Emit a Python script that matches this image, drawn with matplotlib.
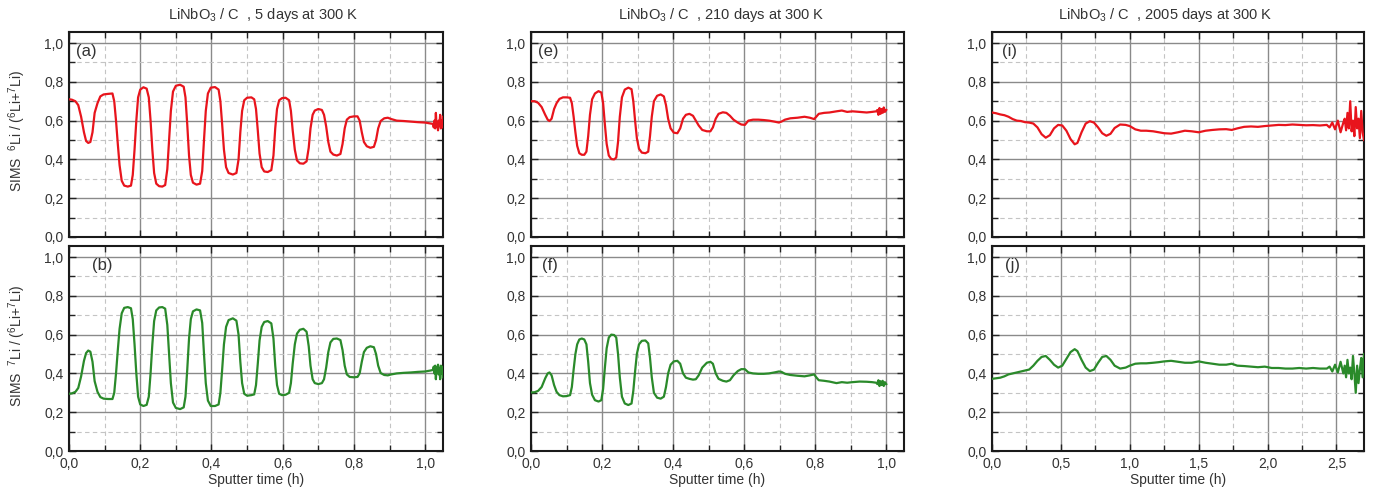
import matplotlib
matplotlib.use('Agg')
import matplotlib.pyplot as plt
from matplotlib.ticker import MultipleLocator, FuncFormatter

plt.rcParams['font.family'] = ['Liberation Sans', 'DejaVu Sans']
plt.rcParams['mathtext.fontset'] = 'custom'
plt.rcParams['mathtext.rm'] = 'Liberation Sans'
plt.rcParams['mathtext.it'] = 'Liberation Sans'
plt.rcParams['mathtext.default'] = 'regular'

# ---------------- data ----------------
titles = ["LiNbO$_3$ / C  , 5 days at 300 K",
          "LiNbO$_3$ / C  , 210 days at 300 K",
          "LiNbO$_3$ / C  , 2005 days at 300 K"]
panel_top = ["(a)", "(e)", "(i)"]
panel_bot = ["(b)", "(f)", "(j)"]
ylabel_top = "SIMS  $^{6}$Li / ($^{6}$Li+$^{7}$Li)"
ylabel_bot = "SIMS  $^{7}$Li / ($^{6}$Li+$^{7}$Li)"
xlabel = "Sputter time (h)"

# 5 days
t_5d = [0.000, 0.008, 0.018, 0.026, 0.034, 0.042, 0.048, 0.054, 0.060, 0.066, 0.072, 0.080, 0.088, 0.097, 0.110, 0.122,
        0.127, 0.132, 0.137, 0.142, 0.148, 0.155, 0.165, 0.174,
        0.179, 0.184, 0.189, 0.194, 0.200, 0.209, 0.218,
        0.224, 0.229, 0.234, 0.239, 0.245, 0.253, 0.262, 0.270,
        0.276, 0.281, 0.286, 0.292, 0.300, 0.312, 0.322,
        0.327, 0.332, 0.337, 0.342, 0.348, 0.358, 0.368,
        0.374, 0.379, 0.384, 0.390, 0.398, 0.410, 0.420,
        0.425, 0.430, 0.435, 0.441, 0.448, 0.460, 0.470,
        0.476, 0.481, 0.486, 0.492, 0.500, 0.512, 0.520,
        0.525, 0.530, 0.535, 0.541, 0.548, 0.558, 0.568,
        0.574, 0.579, 0.584, 0.590, 0.598, 0.608, 0.618,
        0.623, 0.628, 0.634, 0.640, 0.648, 0.658, 0.667,
        0.673, 0.678, 0.684, 0.690, 0.700, 0.710, 0.716,
        0.722, 0.728, 0.734, 0.742, 0.752, 0.762,
        0.768, 0.774, 0.780, 0.788, 0.800, 0.810, 0.816,
        0.822, 0.828, 0.836, 0.846, 0.856, 0.862,
        0.868, 0.875, 0.885, 0.895, 0.905, 0.920, 0.940, 0.960, 0.980, 1.000, 1.015, 1.022,
        1.024, 1.026, 1.028, 1.030, 1.032, 1.034, 1.036, 1.038, 1.040, 1.042, 1.044, 1.046, 1.048, 1.050]
li6_5d = [0.710, 0.708, 0.700, 0.680, 0.620, 0.540, 0.495, 0.485, 0.490, 0.540, 0.640, 0.690, 0.725, 0.735, 0.738, 0.740,
          0.700, 0.600, 0.480, 0.370, 0.290, 0.265, 0.260, 0.265,
          0.320, 0.450, 0.600, 0.720, 0.760, 0.772, 0.765,
          0.720, 0.600, 0.450, 0.330, 0.275, 0.262, 0.260, 0.268,
          0.350, 0.500, 0.650, 0.750, 0.780, 0.785, 0.775,
          0.720, 0.580, 0.420, 0.320, 0.280, 0.270, 0.275,
          0.340, 0.500, 0.650, 0.740, 0.770, 0.773, 0.760,
          0.700, 0.580, 0.450, 0.360, 0.330, 0.322, 0.330,
          0.400, 0.540, 0.650, 0.705, 0.718, 0.720, 0.710,
          0.660, 0.550, 0.430, 0.360, 0.338, 0.335, 0.345,
          0.420, 0.560, 0.660, 0.705, 0.716, 0.718, 0.705,
          0.650, 0.550, 0.450, 0.395, 0.380, 0.378, 0.390,
          0.460, 0.560, 0.630, 0.652, 0.660, 0.655, 0.630,
          0.570, 0.490, 0.440, 0.425, 0.420, 0.428,
          0.480, 0.560, 0.605, 0.618, 0.622, 0.622, 0.600,
          0.540, 0.490, 0.468, 0.460, 0.465, 0.500,
          0.560, 0.598, 0.612, 0.615, 0.608, 0.600, 0.598, 0.595, 0.592, 0.590, 0.585, 0.583,
          0.565, 0.600, 0.560, 0.640, 0.570, 0.585, 0.550, 0.600, 0.575, 0.630, 0.560, 0.600, 0.565, 0.620]
li7_5d = [0.295, 0.297, 0.305, 0.325, 0.385, 0.465, 0.505, 0.518, 0.512, 0.460, 0.360, 0.305, 0.278, 0.270, 0.268, 0.268,
          0.300, 0.400, 0.520, 0.630, 0.710, 0.738, 0.742, 0.736,
          0.680, 0.550, 0.400, 0.280, 0.240, 0.232, 0.238,
          0.280, 0.400, 0.550, 0.670, 0.725, 0.740, 0.742, 0.734,
          0.650, 0.500, 0.350, 0.250, 0.222, 0.216, 0.225,
          0.280, 0.420, 0.580, 0.680, 0.720, 0.730, 0.725,
          0.660, 0.500, 0.350, 0.260, 0.232, 0.232, 0.240,
          0.300, 0.420, 0.550, 0.640, 0.675, 0.684, 0.672,
          0.600, 0.460, 0.350, 0.295, 0.285, 0.288, 0.292,
          0.340, 0.450, 0.570, 0.640, 0.665, 0.670, 0.658,
          0.580, 0.440, 0.340, 0.295, 0.288, 0.290, 0.300,
          0.350, 0.450, 0.550, 0.605, 0.625, 0.630, 0.615,
          0.540, 0.440, 0.370, 0.350, 0.345, 0.350, 0.370,
          0.430, 0.510, 0.560, 0.578, 0.580, 0.572,
          0.520, 0.440, 0.395, 0.382, 0.380, 0.382, 0.400,
          0.460, 0.510, 0.532, 0.540, 0.535, 0.500,
          0.440, 0.402, 0.392, 0.390, 0.395, 0.400, 0.403, 0.405, 0.408, 0.410, 0.415, 0.418,
          0.435, 0.400, 0.440, 0.370, 0.430, 0.405, 0.445, 0.395, 0.425, 0.370, 0.440, 0.400, 0.435, 0.380]

# 210 days
t_210d = [0.000, 0.010, 0.020, 0.030, 0.040, 0.047, 0.052, 0.058, 0.065, 0.072, 0.080, 0.090, 0.100, 0.110,
          0.115, 0.120, 0.125, 0.130, 0.136, 0.143, 0.150, 0.156,
          0.161, 0.166, 0.172, 0.180, 0.190, 0.198,
          0.203, 0.208, 0.213, 0.219, 0.226, 0.234, 0.240,
          0.245, 0.250, 0.256, 0.264, 0.274, 0.283,
          0.288, 0.293, 0.298, 0.304, 0.312, 0.322, 0.330,
          0.335, 0.340, 0.346, 0.355, 0.365, 0.374,
          0.380, 0.386, 0.393, 0.402, 0.412, 0.420,
          0.428, 0.436, 0.446, 0.456, 0.464,
          0.472, 0.482, 0.495, 0.505, 0.512, 0.520, 0.528, 0.540, 0.550, 0.560, 0.570, 0.582, 0.592, 0.602,
          0.612, 0.625, 0.640, 0.655, 0.670, 0.685, 0.698, 0.705, 0.715, 0.730, 0.750, 0.770, 0.785, 0.797,
          0.803, 0.810, 0.825, 0.840, 0.860, 0.875, 0.890, 0.905, 0.925, 0.945, 0.960, 0.972,
          0.975, 0.978, 0.981, 0.984, 0.987, 0.990, 0.993, 0.996, 1.000]
li6_210d = [0.700, 0.700, 0.692, 0.670, 0.630, 0.605, 0.598, 0.610, 0.660, 0.690, 0.712, 0.720, 0.720, 0.718,
            0.690, 0.620, 0.540, 0.470, 0.432, 0.424, 0.424, 0.440,
            0.520, 0.630, 0.710, 0.740, 0.752, 0.745,
            0.690, 0.580, 0.480, 0.420, 0.402, 0.400, 0.410,
            0.490, 0.620, 0.720, 0.760, 0.770, 0.762,
            0.700, 0.600, 0.510, 0.455, 0.435, 0.432, 0.440,
            0.520, 0.620, 0.700, 0.728, 0.735, 0.725,
            0.680, 0.610, 0.560, 0.538, 0.535, 0.560,
            0.610, 0.630, 0.635, 0.625, 0.600,
            0.575, 0.552, 0.545, 0.545, 0.565, 0.610, 0.635, 0.643, 0.640, 0.625, 0.605, 0.590, 0.580, 0.578,
            0.600, 0.605, 0.605, 0.603, 0.600, 0.595, 0.590, 0.595, 0.605, 0.612, 0.615, 0.620, 0.615, 0.608,
            0.620, 0.635, 0.640, 0.642, 0.648, 0.652, 0.645, 0.648, 0.645, 0.642, 0.645, 0.648,
            0.655, 0.630, 0.665, 0.635, 0.660, 0.640, 0.668, 0.645, 0.655]
li7_210d = [0.302, 0.303, 0.310, 0.330, 0.375, 0.400, 0.405, 0.390, 0.340, 0.305, 0.288, 0.282, 0.283, 0.288,
            0.330, 0.420, 0.500, 0.550, 0.575, 0.580, 0.575, 0.550,
            0.460, 0.350, 0.290, 0.262, 0.255, 0.262,
            0.320, 0.430, 0.530, 0.585, 0.600, 0.598, 0.585,
            0.500, 0.380, 0.280, 0.245, 0.237, 0.245,
            0.310, 0.410, 0.500, 0.550, 0.568, 0.570, 0.555,
            0.480, 0.380, 0.300, 0.275, 0.270, 0.280,
            0.330, 0.400, 0.445, 0.462, 0.465, 0.450,
            0.400, 0.378, 0.372, 0.368, 0.370,
            0.390, 0.430, 0.455, 0.460, 0.450, 0.400, 0.372, 0.362, 0.358, 0.365, 0.390, 0.412, 0.422, 0.422,
            0.405, 0.400, 0.398, 0.398, 0.400, 0.405, 0.410, 0.408, 0.398, 0.392, 0.388, 0.385, 0.390, 0.395,
            0.380, 0.365, 0.362, 0.358, 0.350, 0.355, 0.352, 0.355, 0.358, 0.357, 0.355, 0.352,
            0.345, 0.365, 0.335, 0.360, 0.340, 0.362, 0.335, 0.355, 0.345]

# 2005 days
t_2005d = [0.00, 0.03, 0.06, 0.09, 0.12, 0.15, 0.18, 0.21, 0.24, 0.27, 0.30, 0.33, 0.36, 0.39, 0.42, 0.45, 0.48,
           0.51, 0.54, 0.57, 0.60, 0.62, 0.65, 0.68, 0.71, 0.74, 0.77, 0.80, 0.83, 0.86, 0.89, 0.93, 0.97,
           1.00, 1.04, 1.08, 1.12, 1.17, 1.21, 1.25, 1.30, 1.35, 1.40, 1.45, 1.50, 1.55, 1.60, 1.65, 1.70,
           1.74, 1.78, 1.83, 1.88, 1.93, 1.98, 2.03, 2.08, 2.13, 2.18, 2.23, 2.28, 2.33, 2.38, 2.43,
           2.45, 2.47, 2.49, 2.51, 2.53, 2.55, 2.56, 2.57, 2.58, 2.59, 2.60, 2.61, 2.62, 2.63, 2.64,
           2.65, 2.66, 2.67, 2.68, 2.69, 2.70]
li6_2005d = [0.642, 0.638, 0.632, 0.628, 0.620, 0.608, 0.600, 0.598, 0.592, 0.590, 0.585, 0.565, 0.530, 0.512,
             0.525, 0.560, 0.578, 0.575, 0.548, 0.505, 0.478, 0.485, 0.540, 0.585, 0.597, 0.590, 0.565, 0.535,
             0.522, 0.532, 0.562, 0.580, 0.578, 0.572, 0.555, 0.548, 0.548, 0.545, 0.540, 0.535, 0.533, 0.540,
             0.548, 0.545, 0.540, 0.548, 0.552, 0.555, 0.556, 0.552, 0.560, 0.568, 0.570, 0.568, 0.572, 0.575,
             0.578, 0.577, 0.580, 0.578, 0.576, 0.577, 0.575, 0.578,
             0.565, 0.590, 0.555, 0.600, 0.540, 0.590, 0.610, 0.550, 0.640, 0.560, 0.700, 0.545, 0.600, 0.520,
             0.670, 0.560, 0.610, 0.510, 0.650, 0.540, 0.500]
li7_2005d = [0.372, 0.375, 0.378, 0.385, 0.395, 0.400, 0.405, 0.410, 0.415, 0.420, 0.440, 0.465, 0.485, 0.490,
             0.470, 0.445, 0.430, 0.440, 0.475, 0.510, 0.525, 0.515, 0.470, 0.430, 0.412, 0.420, 0.455, 0.485,
             0.490, 0.470, 0.440, 0.425, 0.430, 0.440, 0.450, 0.452, 0.452, 0.455, 0.458, 0.462, 0.465, 0.460,
             0.455, 0.455, 0.462, 0.455, 0.450, 0.445, 0.445, 0.450, 0.440, 0.438, 0.435, 0.432, 0.435, 0.428,
             0.428, 0.425, 0.425, 0.428, 0.425, 0.428, 0.425, 0.425,
             0.435, 0.410, 0.445, 0.405, 0.460, 0.400, 0.440, 0.380, 0.470, 0.400, 0.430, 0.370, 0.490, 0.400,
             0.300, 0.440, 0.350, 0.420, 0.480, 0.380, 0.500]

times = [t_5d, t_210d, t_2005d]
top_vals = [li6_5d, li6_210d, li6_2005d]
bot_vals = [li7_5d, li7_210d, li7_2005d]
xmax = [1.05, 1.05, 2.70]
xmajor = [0.2, 0.2, 0.5]
xminor = [0.1, 0.1, 0.25]

# ---------------- layout ----------------
W, H = 1384, 498
fig = plt.figure(figsize=(W / 100, H / 100), dpi=100)
col_left = [69, 531, 992]
col_right = [443, 904, 1364]
row_top = [32, 246]
row_bot = [237, 451]
title_x = [263, 721, 1165]
lab_top_x = [0.02, 0.02, 0.027]
lab_bot_x = [0.062, 0.03, 0.035]

RED = '#e8141c'
GREEN = '#2a8a2a'
fmt = FuncFormatter(lambda v, p: f"{v:.1f}".replace('.', ','))


def style(ax, c, bottom_row):
    ax.set_xlim(0, xmax[c])
    ax.set_ylim(0, 1.057)
    ax.xaxis.set_major_locator(MultipleLocator(xmajor[c]))
    ax.xaxis.set_minor_locator(MultipleLocator(xminor[c]))
    ax.yaxis.set_major_locator(MultipleLocator(0.2))
    ax.yaxis.set_minor_locator(MultipleLocator(0.1))
    ax.xaxis.set_major_formatter(fmt)
    ax.yaxis.set_major_formatter(fmt)
    ax.grid(which='major', color='#8a8a8a', lw=1.0, ls='-')
    ax.grid(which='minor', color='#c4c4c4', lw=0.8, ls=(0, (4, 3)))
    ax.set_axisbelow(True)
    ax.tick_params(which='both', direction='in', top=True, right=True,
                   length=5, width=1.0, color='#222222', labelsize=10,
                   labelcolor='#333333', pad=4)
    ax.tick_params(which='minor', length=4)
    for s in ax.spines.values():
        s.set_linewidth(1.5)
        s.set_color('#1a1a1a')
    if not bottom_row:
        ax.tick_params(labelbottom=False)


for c in range(3):
    for r in range(2):
        left = col_left[c] / W
        width = (col_right[c] - col_left[c]) / W
        bottom = 1 - row_bot[r] / H
        height = (row_bot[r] - row_top[r]) / H
        ax = fig.add_axes([left, bottom, width, height])
        style(ax, c, r == 1)
        if r == 0:
            ax.plot(times[c], top_vals[c], color=RED, lw=1.6, zorder=3)
            ax.text(lab_top_x[c], 0.905, panel_top[c], transform=ax.transAxes,
                    fontsize=12, color='#333333', va='center', ha='left')
        else:
            ax.plot(times[c], bot_vals[c], color=GREEN, lw=1.6, zorder=3)
            ax.text(lab_bot_x[c], 0.905, panel_bot[c], transform=ax.transAxes,
                    fontsize=12, color='#333333', va='center', ha='left')
            fig.text((col_left[c] + col_right[c]) / 2 / W, 1 - 480 / H, xlabel,
                     ha='center', va='center', fontsize=10, color='#333333')
    fig.text(title_x[c] / W, 1 - 15 / H, titles[c], ha='center', va='center',
             fontsize=10.5, color='#333333')

fig.text(17 / W, 1 - 131 / H, ylabel_top, rotation=90, ha='center', va='center',
         fontsize=10, color='#333333')
fig.text(17 / W, 1 - 346 / H, ylabel_bot, rotation=90, ha='center', va='center',
         fontsize=10, color='#333333')

fig.savefig('out.png', dpi=100)
